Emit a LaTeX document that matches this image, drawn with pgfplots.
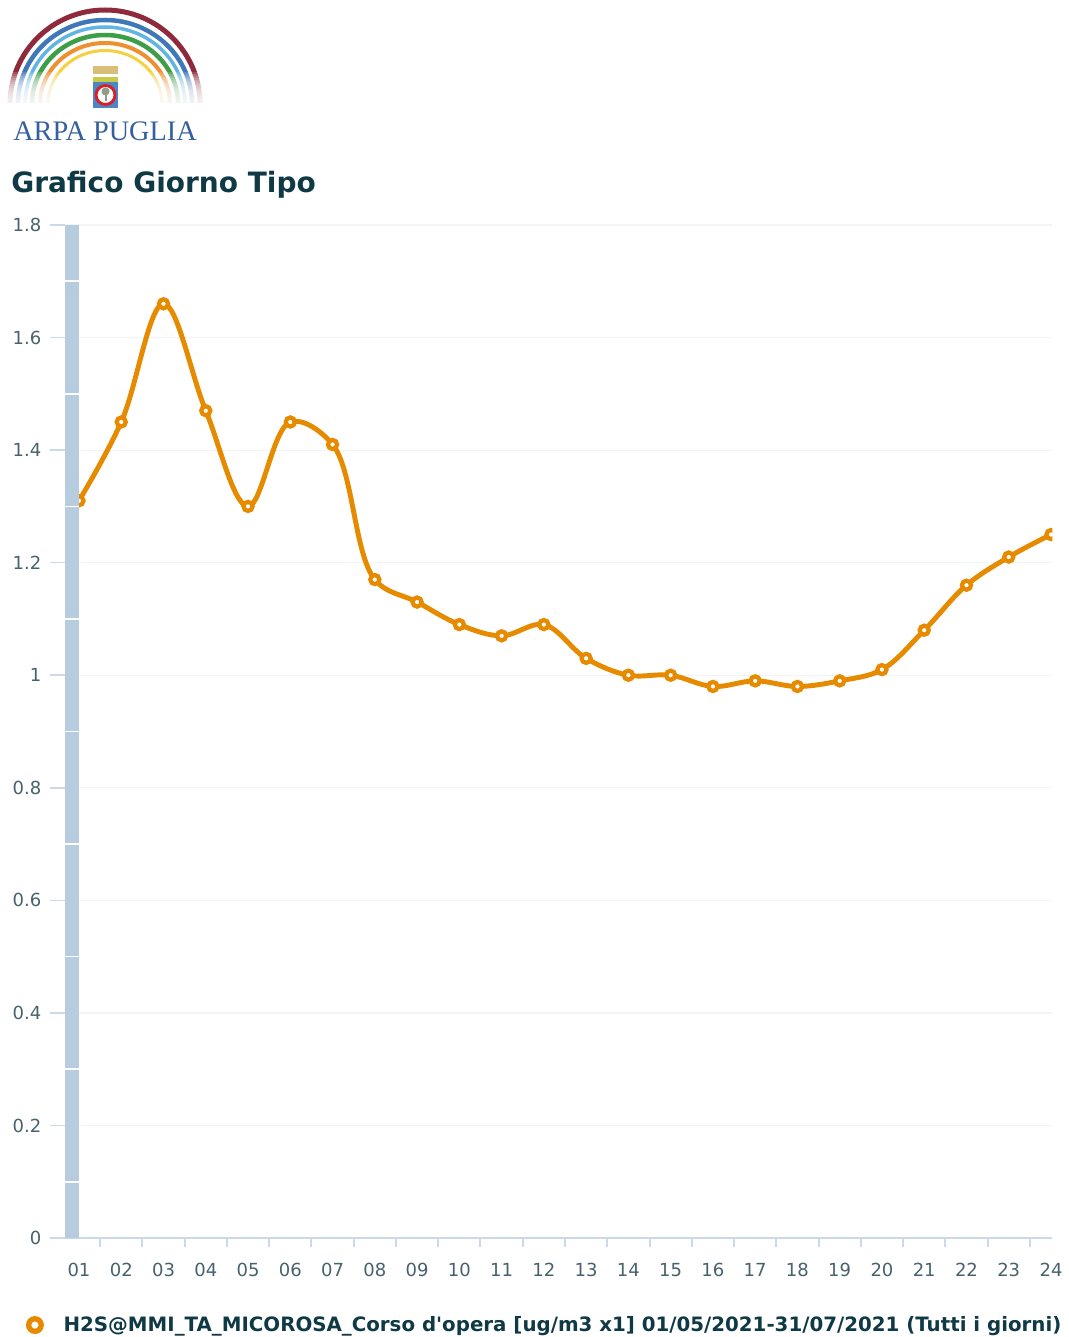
\documentclass[border=0pt]{standalone}
\usepackage{pgfplots}
\pgfplotsset{compat=1.18}
\usepackage{fontspec}
\setmainfont{DejaVu Sans}[Ligatures=TeXOff]
\newfontfamily\logofont{Liberation Serif}
\definecolor{lineor}{HTML}{E68A00}
\definecolor{axisblue}{HTML}{CCD9E8}
\definecolor{bandblue}{HTML}{B8CCDF}
\definecolor{gridc}{HTML}{F3F4F6}
\definecolor{ticktxt}{HTML}{47626C}
\definecolor{titletxt}{HTML}{0F3A45}
\definecolor{logoblue}{HTML}{34609F}
\definecolor{crownc}{HTML}{D8BE78}
\definecolor{bandy}{HTML}{C9C94A}
\definecolor{shieldb}{HTML}{4C86C6}
\definecolor{ringr}{HTML}{D8202A}
\definecolor{treec}{HTML}{8E9C88}
\makeatletter
% plot handler: centripetal Catmull-Rom spline through the data points
\pgfdeclareplothandler{\pgfplothandlerhc}{}{%
  start={\gdef\hc@state{0}},
  point macro=\hc@point,
  jump={\gdef\hc@state{0}},
  end={\hc@finish},
}
\def\hc@point#1{%
  \pgf@process{#1}%
  \edef\hc@nx{\pgf@sys@tonumber\pgf@x}\edef\hc@ny{\pgf@sys@tonumber\pgf@y}%
  \ifnum\hc@state=0
    \pgfpathmoveto{\pgfqpoint{\hc@nx pt}{\hc@ny pt}}%
    \xdef\hc@cx{\hc@nx}\xdef\hc@cy{\hc@ny}\gdef\hc@state{1}%
  \else\ifnum\hc@state=1
    \xdef\hc@px{\hc@cx}\xdef\hc@py{\hc@cy}%
    \xdef\hc@cx{\hc@nx}\xdef\hc@cy{\hc@ny}\gdef\hc@state{2}\gdef\hc@first{1}%
  \else
    \pgfmathsetmacro\hc@dax{\hc@px-\hc@cx}%
    \pgfmathsetmacro\hc@day{\hc@py-\hc@cy}%
    \pgfmathsetmacro\hc@dbx{\hc@nx-\hc@cx}%
    \pgfmathsetmacro\hc@dby{\hc@ny-\hc@cy}%
    \pgfmathsetmacro\hc@La{veclen(\hc@dax,\hc@day)}%
    \pgfmathsetmacro\hc@Lb{veclen(\hc@dbx,\hc@dby)}%
    \pgfmathsetmacro\hc@aa{sqrt(\hc@La)}%
    \pgfmathsetmacro\hc@ab{sqrt(\hc@Lb)}%
    \pgfmathsetmacro\hc@numx{\hc@Lb/100*\hc@dax-\hc@La/100*\hc@dbx}%
    \pgfmathsetmacro\hc@numy{\hc@Lb/100*\hc@day-\hc@La/100*\hc@dby}%
    \pgfmathsetmacro\hc@dena{3*\hc@ab*(\hc@aa+\hc@ab)/100}%
    \pgfmathsetmacro\hc@denb{3*\hc@aa*(\hc@aa+\hc@ab)/100}%
    \pgfmathsetmacro\hc@lx{\hc@cx+\hc@numx/\hc@dena}%
    \pgfmathsetmacro\hc@ly{\hc@cy+\hc@numy/\hc@dena}%
    \pgfmathsetmacro\hc@rx{\hc@cx-\hc@numx/\hc@denb}%
    \pgfmathsetmacro\hc@ry{\hc@cy-\hc@numy/\hc@denb}%
    \ifnum\hc@first=1
      \pgfpathquadraticcurveto{\pgfqpoint{\hc@lx pt}{\hc@ly pt}}{\pgfqpoint{\hc@cx pt}{\hc@cy pt}}%
      \gdef\hc@first{0}%
    \else
      \pgfpathcurveto{\pgfqpoint{\hc@prx pt}{\hc@pry pt}}{\pgfqpoint{\hc@lx pt}{\hc@ly pt}}{\pgfqpoint{\hc@cx pt}{\hc@cy pt}}%
    \fi
    \xdef\hc@px{\hc@cx}\xdef\hc@py{\hc@cy}\xdef\hc@prx{\hc@rx}\xdef\hc@pry{\hc@ry}%
    \xdef\hc@cx{\hc@nx}\xdef\hc@cy{\hc@ny}%
  \fi\fi
}
\def\hc@finish{%
  \ifnum\hc@state=2
    \pgfpathquadraticcurveto{\pgfqpoint{\hc@prx pt}{\hc@pry pt}}{\pgfqpoint{\hc@cx pt}{\hc@cy pt}}%
  \fi
}
\tikzset{hcspline/.code={\def\tikz@plot@handler{\pgfplothandlerhc}}}
\makeatother
\pgfplotstableread{
h v
0 1.31
1 1.45
2 1.66
3 1.47
4 1.30
5 1.45
6 1.41
7 1.17
8 1.13
9 1.09
10 1.07
11 1.09
12 1.03
13 1.00
14 1.00
15 0.98
16 0.99
17 0.98
18 0.99
19 1.01
20 1.08
21 1.16
22 1.21
23 1.25
}\hourly
\begin{document}
\begin{tikzpicture}[x=0.75pt,y=-0.75pt]
\path[use as bounding box] (0,0) rectangle (1069,1337);
% logo rainbow
\foreach \c/\rx/\ry/\w in {
  8E2A3C/95/94/5, 3F78B8/87/84/4.5, 62B4E4/80/77/3.5, 3E9E48/73/69/4.5, EE9030/65/61/4, F5D040/57/53.5/3}{
  \definecolor{tmpc}{HTML}{\c}
  \draw[tmpc,line width=\w*0.75pt] ({105-\rx},104) arc[start angle=180,end angle=0,x radius=\rx*0.75pt,y radius=\ry*0.75pt];
}
\foreach \i in {0,...,15}{
  \fill[white,opacity=0.16] (0,{72+\i*2}) rectangle (215,105);
}
\fill[white] (0,103) rectangle (215,108);
% coat of arms
\fill[crownc] (93,66) rectangle (118,74);
\fill[bandy] (93,77) rectangle (118,82);
\fill[shieldb] (93,82) rectangle (118,108);
\fill[white] (105.5,95) circle[radius=9.5*0.75pt];
\draw[ringr,line width=2.2pt] (105.5,95) circle[radius=9.5*0.75pt];
\fill[treec] (105.5,91.5) circle[radius=4*0.75pt];
\fill[treec] (104.5,92) rectangle (106.5,101);
% logo text
\node[anchor=base west,inner sep=0pt,text=logoblue,font=\logofont\fontsize{21.2}{21.2}\selectfont] at (13,141) {ARPA PUGLIA};
% title
\node[anchor=base west,inner sep=0pt,text=titletxt,font=\bfseries\fontsize{21}{21}\selectfont] at (11,193) {Grafico Giorno Tipo};
\coordinate (A) at (65,1238);
\begin{axis}[
  at={(A)},anchor=south west,
  scale only axis,width=740.6pt,height=759.75pt,
  xmin=-0.3313,xmax=23.035,ymin=0,ymax=1.8,
  axis x line=bottom,axis y line=left,
  axis line style={-},
  x axis line style={axisblue,line width=1.5pt},
  y axis line style={draw=none},
  tick align=outside,
  major tick length=11.25pt,
  minor tick length=6.5pt,
  major tick style={draw=none},
  xtick={0,...,23},
  xticklabels={01,02,03,04,05,06,07,08,09,10,11,12,13,14,15,16,17,18,19,20,21,22,23,24},
  xticklabel style={yshift=-3.75pt,text height=10pt,text depth=0pt},
  minor xtick={0.5,1.5,...,22.5},
  minor tick style={draw=axisblue,line width=1.5pt},
  ytick={0,0.2,...,1.8},
  yticklabels={0,0.2,0.4,0.6,0.8,1,1.2,1.4,1.6,1.8},
  yticklabel style={xshift=-3pt},
  ytick style={draw=axisblue,line width=1.2pt},
  ymajorgrids,
  grid style={draw=gridc,line width=0.9pt},
  tick label style={font=\fontsize{13.5}{13.5}\selectfont,text=ticktxt},
  legend style={draw=none,fill=none,at={(rel axis cs:-0.0436,-0.0859)},anchor=west,inner sep=0pt,
    font=\bfseries\fontsize{14.85}{14.85}\selectfont,text=titletxt,legend cell align=left},
  legend image code/.code={\path (0,0) (0.89cm,0);\draw[lineor,line width=4pt,fill=white] (0.27cm,0) circle[radius=4.7pt];},
  clip marker paths=true,
]
\addplot[lineor,line width=3.7pt,hcspline,mark=*,mark size=3.4pt,
  mark options={line width=3.2pt,fill=white,draw=lineor,solid}] table[x=h,y=v] {\hourly};
\addlegendentry{H2S@MMI\_TA\_MICOROSA\_Corso d'opera [ug/m3 x1] 01/05/2021-31/07/2021 (Tutti i giorni)}
\addplot[forget plot,fill=bandblue,draw=none] coordinates {(-0.3313,0)(0,0)(0,1.8)(-0.3313,1.8)} -- cycle;
\addplot[forget plot,white,line width=1.2pt,unbounded coords=jump] coordinates {
 (-0.3313,0.1)(0,0.1)(0,nan)
 (-0.3313,0.3)(0,0.3)(0,nan)
 (-0.3313,0.5)(0,0.5)(0,nan)
 (-0.3313,0.7)(0,0.7)(0,nan)
 (-0.3313,0.9)(0,0.9)(0,nan)
 (-0.3313,1.1)(0,1.1)(0,nan)
 (-0.3313,1.3)(0,1.3)(0,nan)
 (-0.3313,1.5)(0,1.5)(0,nan)
 (-0.3313,1.7)(0,1.7)};
\end{axis}
\end{tikzpicture}
\end{document}
